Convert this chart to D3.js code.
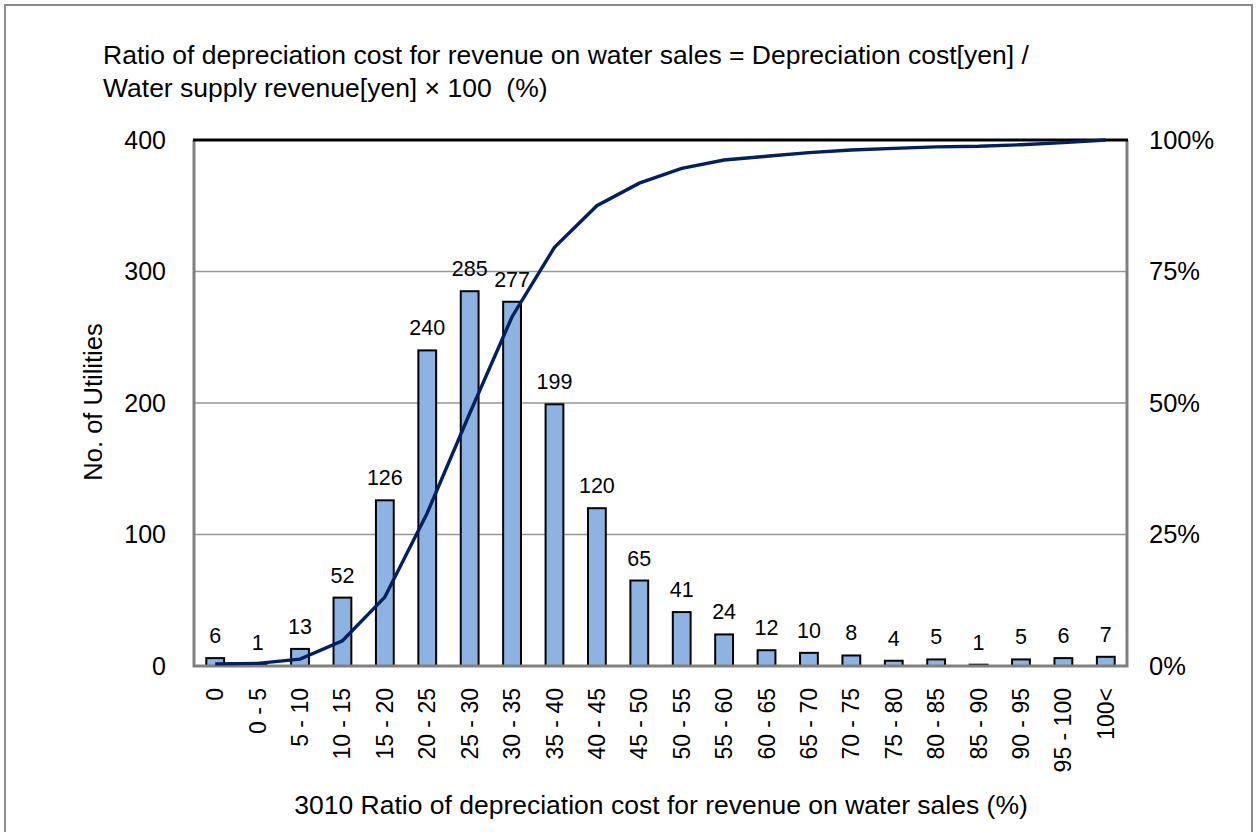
<!DOCTYPE html>
<html>
<head>
<meta charset="utf-8">
<script src="https://cdn.jsdelivr.net/npm/d3@7"></script>
<style>
  body { margin: 0; background: #fff; }
  text { font-family: "Liberation Sans", Arial, sans-serif; fill: #000; }
</style>
</head>
<body>
<div id="chart"></div>
<script>
// categories (ratio ranges, %)
const categories = ["0", "0 - 5", "5 - 10", "10 - 15", "15 - 20", "20 - 25", "25 - 30", "30 - 35", "35 - 40", "40 - 45",
  "45 - 50", "50 - 55", "55 - 60", "60 - 65", "65 - 70", "70 - 75", "75 - 80", "80 - 85", "85 - 90", "90 - 95", "95 - 100", "100<"];
// number of utilities per range
const counts = [6, 1, 13, 52, 126, 240, 285, 277, 199, 120, 65, 41, 24, 12, 10, 8, 4, 5, 1, 5, 6, 7];
// cumulative share (%)
const cumulative = [0.4, 0.5, 1.3, 4.8, 13.1, 29.1, 48.0, 66.4, 79.6, 87.5, 91.8, 94.6, 96.2, 96.9,
  97.6, 98.1, 98.4, 98.7, 98.8, 99.1, 99.5, 100];
const leftTicks = [0, 100, 200, 300, 400];
const rightTicks = [0, 25, 50, 75, 100];
const titleLines = [
  "Ratio of depreciation cost for revenue on water sales = Depreciation cost[yen] /",
  "Water supply revenue[yen] \u00d7 100 \u00a0(%)"
];

const width = 1257, height = 832;
const plot = { left: 194, right: 1127, top: 140, bottom: 666 };

const svg = d3.select("#chart").append("svg")
  .attr("width", width)
  .attr("height", height);

// outer frame
svg.append("rect")
  .attr("x", 5).attr("y", 5)
  .attr("width", 1247).attr("height", 840)
  .attr("fill", "#fff")
  .attr("stroke", "#8c8c8c")
  .attr("stroke-width", 2);

// scales
const x = d3.scaleBand().domain(categories).range([plot.left, plot.right]).paddingInner(0.58).paddingOuter(0.29);
const xc = d3.scaleBand().domain(categories).range([plot.left, plot.right]);
const y = d3.scaleLinear().domain([0, 400]).range([plot.bottom, plot.top]);
const y2 = d3.scaleLinear().domain([0, 100]).range([plot.bottom, plot.top]);

// gridlines
svg.append("g")
  .selectAll("line")
  .data(leftTicks.slice(1, -1))
  .join("line")
  .attr("x1", plot.left).attr("x2", plot.right)
  .attr("y1", d => y(d)).attr("y2", d => y(d))
  .attr("stroke", "#969696")
  .attr("stroke-width", 1.5);

// bars
svg.append("g")
  .selectAll("rect")
  .data(counts)
  .join("rect")
  .attr("x", (d, i) => x(categories[i]))
  .attr("y", d => y(d))
  .attr("width", x.bandwidth())
  .attr("height", d => plot.bottom - y(d))
  .attr("fill", "#8db3e2")
  .attr("stroke", "#000")
  .attr("stroke-width", 2);

// plot frame: gray sides and bottom, black top
svg.append("path")
  .attr("d", `M${plot.left},${plot.top} V${plot.bottom} H${plot.right} V${plot.top}`)
  .attr("fill", "none")
  .attr("stroke", "#808080")
  .attr("stroke-width", 3);
svg.append("line")
  .attr("x1", plot.left - 1).attr("x2", plot.right + 1)
  .attr("y1", plot.top).attr("y2", plot.top)
  .attr("stroke", "#000")
  .attr("stroke-width", 3);

// cumulative line
const line = d3.line()
  .x((d, i) => xc(categories[i]) + xc.bandwidth() / 2)
  .y(d => y2(d));
svg.append("path")
  .datum(cumulative)
  .attr("d", line)
  .attr("fill", "none")
  .attr("stroke", "#002060")
  .attr("stroke-width", 3.4);

// data labels
svg.append("g")
  .selectAll("text")
  .data(counts)
  .join("text")
  .attr("x", (d, i) => x(categories[i]) + x.bandwidth() / 2)
  .attr("y", d => y(d) - 15)
  .attr("text-anchor", "middle")
  .style("font-size", "21.5px")
  .text(d => d);

// left axis labels
svg.append("g")
  .selectAll("text")
  .data(leftTicks)
  .join("text")
  .attr("x", 166)
  .attr("y", d => y(d))
  .attr("dy", "0.35em")
  .attr("text-anchor", "end")
  .style("font-size", "25px")
  .text(d => d);

// right axis labels
svg.append("g")
  .selectAll("text")
  .data(rightTicks)
  .join("text")
  .attr("x", 1149)
  .attr("y", d => y2(d))
  .attr("dy", "0.35em")
  .style("font-size", "25.5px")
  .text(d => d + "%");

// category labels (rotated)
svg.append("g")
  .selectAll("text")
  .data(categories)
  .join("text")
  .attr("transform", d => `translate(${xc(d) + xc.bandwidth() / 2},688) rotate(-90)`)
  .attr("dy", "0.35em")
  .attr("text-anchor", "end")
  .style("font-size", "23px")
  .text(d => d);

// axis titles
svg.append("text")
  .attr("transform", "translate(93,402) rotate(-90)")
  .attr("dy", "0.35em")
  .attr("text-anchor", "middle")
  .style("font-size", "25.5px")
  .text("No. of Utilities");

svg.append("text")
  .attr("x", 661)
  .attr("y", 805)
  .attr("dy", "0.35em")
  .attr("text-anchor", "middle")
  .style("font-size", "26.5px")
  .text("3010 Ratio of depreciation cost for revenue on water sales (%)");

// title
svg.append("g")
  .selectAll("text")
  .data(titleLines)
  .join("text")
  .attr("x", 103)
  .attr("y", (d, i) => 55 + i * 33)
  .attr("dy", "0.35em")
  .style("font-size", "26.5px")
  .text(d => d);
</script>
</body>
</html>
